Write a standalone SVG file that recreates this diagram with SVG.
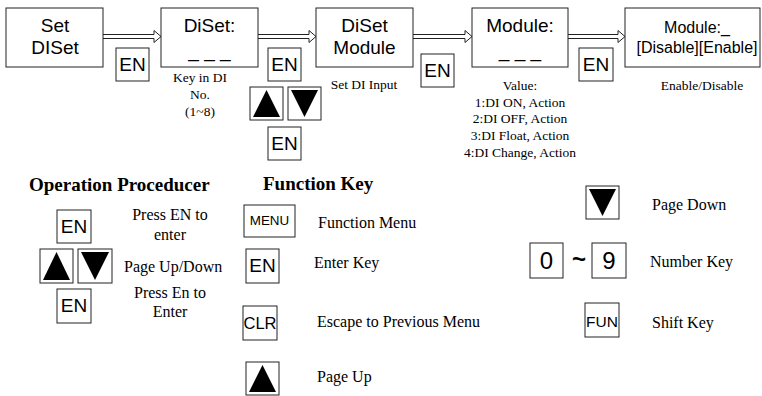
<svg xmlns="http://www.w3.org/2000/svg" width="762" height="396" viewBox="0 0 762 396">
<style>
.box{fill:#fff;stroke:#222;stroke-width:1}
.key{fill:#fff;stroke:#222;stroke-width:1}
.tri{fill:#000}
.arr{fill:#fff;stroke:#222;stroke-width:1}
.big{font-family:"Liberation Sans",Arial,sans-serif;font-size:19px;fill:#000;text-anchor:middle}
.mid{font-family:"Liberation Sans",Arial,sans-serif;font-size:16px;fill:#000;text-anchor:middle}
.note{font-family:"Liberation Serif","Times New Roman",serif;font-size:13.5px;fill:#000;text-anchor:middle}
.lbl{font-family:"Liberation Serif","Times New Roman",serif;font-size:16px;fill:#000}
.hdr{font-family:"Liberation Serif","Times New Roman",serif;font-size:19px;font-weight:bold;fill:#000}
.kt{font-family:"Liberation Sans",Arial,sans-serif;fill:#000;text-anchor:middle}
</style>
<g id="connectors">
<path class="arr" d="M103,34.5 H154 V30.5 L161,36.5 L154,42.5 V38.5 H103"/>
<path class="arr" d="M258,34.5 H309 V30.5 L316,36.5 L309,42.5 V38.5 H258"/>
<path class="arr" d="M413,34.5 H465 V30.5 L472,36.5 L465,42.5 V38.5 H413"/>
<path class="arr" d="M568,34.5 H618 V30.5 L625,36.5 L618,42.5 V38.5 H568"/>
</g>
<g id="node-set-diset">
<rect class="box" x="6" y="8" width="97" height="59"/>
<text class="big" x="55" y="32">Set</text>
<text class="big" x="55" y="54">DISet</text>
</g>
<g id="node-diset">
<rect class="box" x="161" y="8" width="97" height="59"/>
<text class="big" x="209.5" y="32">DiSet:</text>
<text class="big" x="209.5" y="57">_ _ _</text>
</g>
<g id="node-diset-module">
<rect class="box" x="316" y="8" width="97" height="59"/>
<text class="big" x="364.5" y="32">DiSet</text>
<text class="big" x="364.5" y="54">Module</text>
</g>
<g id="node-module">
<rect class="box" x="472" y="8" width="96" height="59"/>
<text class="big" x="520" y="32">Module:</text>
<text class="big" x="520" y="57">_ _ _</text>
</g>
<g id="node-module-enable">
<rect class="box" x="625" y="8" width="135" height="59"/>
<text class="mid" x="697" y="33">Module:_</text>
<text class="mid" x="697" y="53">[Disable][Enable]</text>
</g>
<g id="key-en-1">
<rect class="key" x="116" y="48" width="33" height="33"/>
<text class="kt" x="132.5" y="71" font-size="19">EN</text>
</g>
<g id="key-en-2">
<rect class="key" x="268" y="48" width="33" height="33"/>
<text class="kt" x="284.5" y="71" font-size="19">EN</text>
</g>
<g id="key-up-2">
<rect class="key" x="250" y="87" width="33" height="33"/>
<polygon class="tri" points="266.5,90 253,117 280,117"/>
</g>
<g id="key-down-2">
<rect class="key" x="288" y="87" width="33" height="33"/>
<polygon class="tri" points="291,90 318,90 304.5,117"/>
</g>
<g id="key-en-2b">
<rect class="key" x="268" y="127" width="33" height="33"/>
<text class="kt" x="284.5" y="150" font-size="19">EN</text>
</g>
<g id="key-en-3">
<rect class="key" x="421" y="54" width="33" height="33"/>
<text class="kt" x="437.5" y="77" font-size="19">EN</text>
</g>
<g id="key-en-4">
<rect class="key" x="579" y="48" width="34" height="33"/>
<text class="kt" x="596" y="71" font-size="19">EN</text>
</g>
<g id="note-key-in">
<text class="note" x="200" y="82">Key in DI</text>
<text class="note" x="200" y="99">No.</text>
<text class="note" x="200" y="116">(1~8)</text>
</g>
<g id="note-set-di-input">
<text class="note" x="364" y="89">Set DI Input</text>
</g>
<g id="note-value">
<text class="note" x="520" y="90">Value:</text>
<text class="note" x="520" y="106.5">1:DI ON, Action</text>
<text class="note" x="520" y="123">2:DI OFF, Action</text>
<text class="note" x="520" y="140">3:DI Float, Action</text>
<text class="note" x="520" y="157">4:DI Change, Action</text>
</g>
<g id="note-enable">
<text class="note" x="702" y="90">Enable/Disable</text>
</g>
<g id="legend-operation">
<text class="hdr" x="29" y="191">Operation Proceducer</text>
<rect class="key" x="57" y="210" width="34" height="33"/>
<text class="kt" x="74" y="233" font-size="19">EN</text>
<rect class="key" x="40" y="249" width="33" height="34"/>
<polygon class="tri" points="56.5,252 43,280 70,280"/>
<rect class="key" x="78" y="249" width="34" height="34"/>
<polygon class="tri" points="81,252 109,252 95,280"/>
<rect class="key" x="57" y="289" width="34" height="34"/>
<text class="kt" x="74" y="312" font-size="19">EN</text>
<text class="lbl" x="170" y="220" text-anchor="middle">Press EN to</text>
<text class="lbl" x="170" y="240" text-anchor="middle">enter</text>
<text class="lbl" x="124" y="272">Page Up/Down</text>
<text class="lbl" x="170" y="298" text-anchor="middle">Press En to</text>
<text class="lbl" x="170" y="317" text-anchor="middle">Enter</text>
</g>
<g id="legend-function">
<text class="hdr" x="263" y="190">Function Key</text>
<rect class="key" x="244" y="205" width="51" height="32"/>
<text class="kt" x="269.5" y="225" font-size="13.4">MENU</text>
<text class="lbl" x="318" y="228">Function Menu</text>
<rect class="key" x="246" y="249" width="33" height="34"/>
<text class="kt" x="262.5" y="272" font-size="19">EN</text>
<text class="lbl" x="314" y="268">Enter Key</text>
<rect class="key" x="243" y="306" width="34" height="34"/>
<text class="kt" x="260" y="329" font-size="16.5">CLR</text>
<text class="lbl" x="317" y="327">Escape to Previous Menu</text>
<rect class="key" x="246" y="362" width="33" height="33"/>
<polygon class="tri" points="262.5,365 249,392 276,392"/>
<text class="lbl" x="317" y="382">Page Up</text>
</g>
<g id="legend-keys-right">
<rect class="key" x="586" y="186" width="33" height="33"/>
<polygon class="tri" points="589,189 616,189 602.5,216"/>
<text class="lbl" x="652" y="210">Page Down</text>
<rect class="key" x="530" y="243" width="33" height="35"/>
<text class="kt" x="546.5" y="269" font-size="24">0</text>
<text class="kt" x="579" y="267" font-size="24" font-weight="bold">~</text>
<rect class="key" x="592" y="243" width="34" height="35"/>
<text class="kt" x="609" y="269" font-size="24">9</text>
<text class="lbl" x="650" y="267">Number Key</text>
<rect class="key" x="585" y="303" width="34" height="34"/>
<text class="kt" x="602" y="327" font-size="15.5">FUN</text>
<text class="lbl" x="652" y="328">Shift Key</text>
</g>
</svg>
